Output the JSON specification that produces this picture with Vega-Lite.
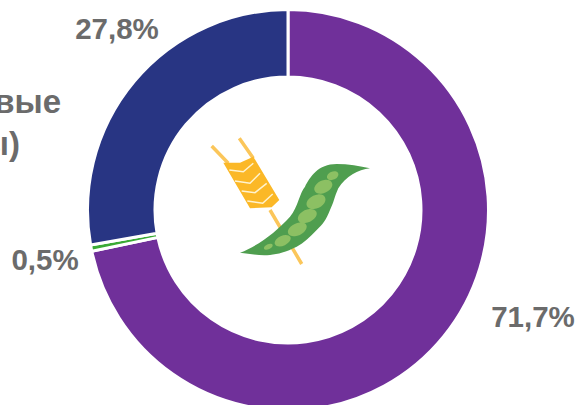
{"$schema":"https://vega.github.io/schema/vega-lite/v6.json","width":400,"height":390,"padding":{"left":88,"top":15,"right":92,"bottom":0},"autosize":"none","background":"white","view":{"stroke":null},"data":{"values":[{"name":"Категория 1","value":71.7,"label":"71,7%","ord":1},{"name":"Категория 2","value":0.5,"label":"0,5%","ord":2},{"name":"Категория 3","value":27.8,"label":"27,8%","ord":3}]},"layer":[{"mark":{"type":"arc","outerRadius":200.5,"innerRadius":133,"stroke":"white","strokeWidth":3},"encoding":{"theta":{"field":"value","type":"quantitative","stack":true},"order":{"field":"ord"},"color":{"field":"name","type":"nominal","legend":null,"scale":{"domain":["Категория 1","Категория 2","Категория 3"],"range":["#70309a","#3aaa35","#283583"]}}}},{"transform":[{"filter":"datum.ord==3"}],"mark":{"type":"text","font":"Liberation Sans","fontWeight":"bold","fontSize":29.5,"fill":"#6b6b6b","dx":-171,"dy":-180,"baseline":"middle"},"encoding":{"text":{"field":"label"}}},{"transform":[{"filter":"datum.ord==2"}],"mark":{"type":"text","font":"Liberation Sans","fontWeight":"bold","fontSize":29.5,"fill":"#6b6b6b","dx":-243,"dy":51,"baseline":"middle"},"encoding":{"text":{"field":"label"}}},{"transform":[{"filter":"datum.ord==1"}],"mark":{"type":"text","font":"Liberation Sans","fontWeight":"bold","fontSize":29.5,"fill":"#6b6b6b","dx":245,"dy":108,"baseline":"middle"},"encoding":{"text":{"field":"label"}}},{"data":{"values":[{"t":"Зернобобовые"}]},"mark":{"type":"text","font":"Liberation Sans","fontWeight":"bold","fontSize":33,"fill":"#6b6b6b","align":"right","dx":-227,"dy":-107.5,"baseline":"middle"},"encoding":{"text":{"field":"t"}}},{"data":{"values":[{"t":"(бобы)"}]},"mark":{"type":"text","font":"Liberation Sans","fontWeight":"bold","fontSize":33,"fill":"#6b6b6b","align":"right","dx":-268,"dy":-65,"baseline":"middle"},"encoding":{"text":{"field":"t"}}},{"data":{"values":[{"part":"stem"}]},"mark":{"type":"point","filled":false,"opacity":1,"size":4,"stroke":"#fbc65a","strokeWidth":3.5,"shape":"M-76.3 -64L-59.7 -46.7M-48.7 -71.7L-34.7 -51.7M-18 0L13.7 54"},"encoding":{}},{"data":{"values":[{"part":"wheat"}]},"mark":{"type":"point","filled":true,"opacity":1,"size":4,"fill":"#fbb827","shape":"M-64.7 -47.3L-48 -47.3L-34.7 -53.3L-8.7 -10L-16.3 -2.7L-38 -1.7Z"},"encoding":{}},{"data":{"values":[{"part":"chevrons"}]},"mark":{"type":"point","filled":false,"opacity":1,"size":4,"stroke":"#fff3cf","strokeWidth":1.5,"shape":"M-58.7 -40L-44.7 -38.3L-34.7 -46.7M-53 -29L-38 -26.7L-28 -36.7M-46.3 -19L-33 -17.3L-21.3 -26.7M-40.7 -9L-25.3 -6.7L-15.3 -16"},"encoding":{}},{"data":{"values":[{"part":"pod"}]},"mark":{"type":"point","filled":true,"opacity":1,"size":4,"fill":"#4f9e4f","shape":"M-48 42.7C-30 36 -12 22 2 6.7C10 -3 12 -18 17 -23.3C22 -33 30 -46 48.7 -46C60 -46 72 -44 82 -41.7C70 -40 58 -34 50.3 -21.7C46 -12 46 -8 42 0C38 10 35 14 28.7 20C22 27 16 33 8.7 36.7C-2 42 -10 44 -18 45C-28 46 -38 44 -48 42.7Z"},"encoding":{}},{"data":{"values":[{"part":"peas"}]},"mark":{"type":"point","filled":true,"opacity":1,"size":4,"fill":"#8cc063","shape":"M-15.44 34.71A4.7 2.5 -25 1 0 -23.96 38.69A4.7 2.5 -25 1 0 -15.44 34.71ZM2.4 27.1A8.5 5 -25 1 0 -13 34.3A8.5 5 -25 1 0 2.4 27.1ZM18.36 15.07A10 6 -25 1 0 0.24 23.53A10 6 -25 1 0 18.36 15.07ZM28.36 1.77A10 6.2 -25 1 0 10.24 10.23A10 6.2 -25 1 0 28.36 1.77ZM37.06 -12.53A10 6.5 -25 1 0 18.94 -4.07A10 6.5 -25 1 0 37.06 -12.53ZM43.9 -27.32A9.5 6 -25 1 0 26.7 -19.28A9.5 6 -25 1 0 43.9 -27.32ZM50.14 -36.84A6 4 -25 1 0 39.26 -31.76A6 4 -25 1 0 50.14 -36.84Z"},"encoding":{}}]}
